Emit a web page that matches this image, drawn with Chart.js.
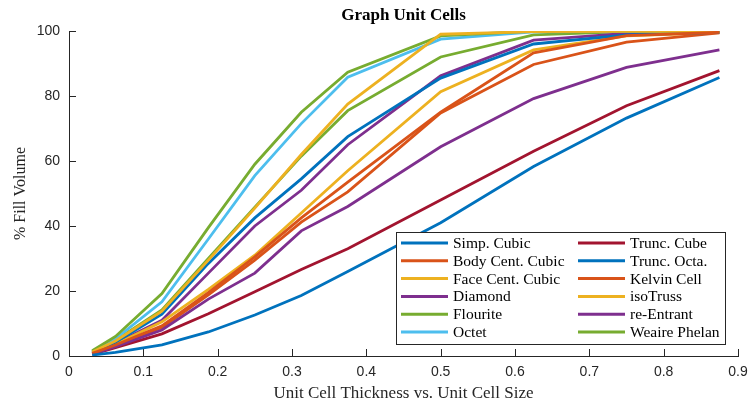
<!DOCTYPE html>
<html>
<head>
<meta charset="utf-8">
<script src="https://cdn.jsdelivr.net/npm/chart.js@4.4.1/dist/chart.umd.min.js"></script>
<style>
  html, body { margin: 0; padding: 0; background: #fff; }
  #wrap { width: 749px; height: 407px; }
</style>
</head>
<body>
<div id="wrap"><canvas id="cells"></canvas></div>
<script>
// thickness / cell size ratios sampled
const thickness = [0.03125, 0.0625, 0.125, 0.1875, 0.25, 0.3125, 0.375, 0.5, 0.625, 0.75, 0.875];
const xTicks = [0, 0.1, 0.2, 0.3, 0.4, 0.5, 0.6, 0.7, 0.8, 0.9];
const yTicks = [0, 20, 40, 60, 80, 100];

const simpCubic     = [0.3, 1.1, 3.4, 7.4, 12.6, 18.6, 26, 41, 58.3, 73.2, 85.7];
const bodyCentCubic = [0.8, 3.4, 9.3, 19.5, 30.5, 42.5, 53.5, 75, 93.3, 98.6, 99.6];
const faceCentCubic = [1.2, 4.6, 13.8, 29.5, 45.5, 62, 77.5, 99, 99.8, 99.9, 100];
const diamond       = [0.6, 2.9, 8.0, 17.5, 25.5, 38.5, 46, 64.4, 79.2, 88.8, 94.2];
const flourite      = [1.6, 6.0, 19.2, 39.5, 59, 75, 87.3, 98.5, 100, 100, 100];
const octet         = [1.4, 5.3, 16.7, 36, 55.5, 71.5, 85.8, 97.5, 99.7, 99.9, 100];
const truncCube     = [0.5, 2.6, 6.8, 13, 19.8, 26.6, 33, 48, 63, 77, 87.8];
const truncOcta     = [1.0, 4.2, 12.9, 28.5, 42.5, 54.5, 67.5, 85.5, 96, 98.8, 99.6];
const kelvinCell    = [0.7, 3.2, 8.8, 18.8, 29.5, 41.2, 50.5, 74.8, 89.7, 96.6, 99.4];
const isoTruss      = [0.8, 3.6, 10.5, 20.5, 31, 44, 57, 81.3, 94.2, 98.5, 99.5];
const reEntrant     = [0.9, 3.9, 11, 25.5, 40, 51, 65, 86.2, 97.2, 99.3, 99.8];
const weairePhelan  = [1.3, 4.8, 14.2, 30, 45.8, 61.5, 75.5, 92, 98.8, 99.8, 100];

const seriesNames = ['Simp. Cubic', 'Body Cent. Cubic', 'Face Cent. Cubic', 'Diamond', 'Flourite', 'Octet',
  'Trunc. Cube', 'Trunc. Octa.', 'Kelvin Cell', 'isoTruss', 're-Entrant', 'Weaire Phelan'];
const seriesValues = [simpCubic, bodyCentCubic, faceCentCubic, diamond, flourite, octet,
  truncCube, truncOcta, kelvinCell, isoTruss, reEntrant, weairePhelan];
const seriesColors = ['#0072BD', '#D95319', '#EDB120', '#7E2F8E', '#77AC30', '#4DBEEE',
  '#A2142F', '#0072BD', '#D95319', '#EDB120', '#7E2F8E', '#77AC30'];

const axisColor = '#262626';

// matlab style ticks pointing into the plot
const inwardTicks = {
  id: 'inwardTicks',
  beforeDatasetsDraw(chart) {
    const { ctx, chartArea: { left, bottom } } = chart;
    const len = 7;
    ctx.save();
    ctx.strokeStyle = axisColor;
    ctx.lineWidth = 1;
    ctx.beginPath();
    xTicks.forEach((v) => {
      const px = Math.round(chart.scales.x.getPixelForValue(v)) + 0.5;
      ctx.moveTo(px, bottom);
      ctx.lineTo(px, bottom - len);
    });
    yTicks.forEach((v) => {
      const py = Math.round(chart.scales.y.getPixelForValue(v)) + 0.5;
      ctx.moveTo(left, py);
      ctx.lineTo(left + len, py);
    });
    ctx.stroke();
    ctx.restore();
  },
};

// two column legend box in the lower right corner
const cellLegend = {
  id: 'cellLegend',
  afterDraw(chart) {
    const { ctx, chartArea } = chart;
    const boxW = 329;
    const boxH = 112;
    const right = chartArea.right - 13;
    const bottom = chartArea.bottom - 12;
    const left = right - boxW;
    const top = bottom - boxH;
    const perCol = 6;
    const rowH = 17.8;

    ctx.save();
    ctx.fillStyle = '#fff';
    ctx.fillRect(left, top, boxW, boxH);
    ctx.strokeStyle = axisColor;
    ctx.lineWidth = 1;
    ctx.strokeRect(Math.round(left) + 0.5, Math.round(top) + 0.5, boxW, boxH);

    ctx.font = '15.5px "Liberation Serif"';
    ctx.textBaseline = 'middle';
    ctx.textAlign = 'left';
    chart.data.datasets.forEach((ds, i) => {
      const col = Math.floor(i / perCol);
      const row = i % perCol;
      const x0 = left + (col === 0 ? 5 : 182);
      const y = top + 11 + row * rowH;
      ctx.strokeStyle = ds.borderColor;
      ctx.lineWidth = 3;
      ctx.beginPath();
      ctx.moveTo(x0, y);
      ctx.lineTo(x0 + 47, y);
      ctx.stroke();
      ctx.fillStyle = '#000';
      ctx.fillText(ds.label, x0 + 52, y + 1);
    });
    ctx.restore();
  },
};

const datasets = seriesNames.map((name, i) => ({
  label: name,
  data: thickness.map((t, j) => ({ x: t, y: seriesValues[i][j] })),
  borderColor: seriesColors[i],
  backgroundColor: seriesColors[i],
  borderWidth: 2.8,
  pointRadius: 0,
  tension: 0,
  fill: false,
}));

// eslint-disable-next-line no-unused-vars
const cellChart = new Chart(document.getElementById('cells'), {
  type: 'line',
  data: { datasets },
  options: {
    responsive: true,
    maintainAspectRatio: false,
    animation: false,
    events: [],
    layout: {
      padding: { top: 0, right: 0, bottom: 0, left: 0 },
    },
    plugins: {
      legend: { display: false },
      tooltip: { enabled: false },
      title: {
        display: true,
        text: 'Graph Unit Cells',
        fullSize: false,
        color: '#000',
        font: { family: '"Liberation Serif"', size: 17, weight: 'bold' },
        padding: { top: 5, bottom: 5.6 },
      },
    },
    scales: {
      x: {
        type: 'linear',
        min: 0,
        max: 0.9,
        afterBuildTicks: (scale) => {
          scale.ticks = xTicks.map((v) => ({ value: v }));
        },
        afterFit: (scale) => {
          scale.height = 51;
          scale.paddingRight = 11;
        },
        ticks: {
          color: axisColor,
          padding: 8,
          maxRotation: 0,
          font: { family: '"Liberation Sans"', size: 14 },
          callback: (value) => (value === 0 ? '0' : value.toFixed(1)),
        },
        grid: { display: false, drawTicks: false },
        border: { display: true, color: axisColor, width: 1 },
        title: {
          display: true,
          text: 'Unit Cell Thickness vs. Unit Cell Size',
          color: axisColor,
          font: { family: '"Liberation Serif"', size: 17 },
          padding: { top: 0, bottom: 3 },
        },
      },
      y: {
        type: 'linear',
        min: 0,
        max: 100,
        afterBuildTicks: (scale) => {
          scale.ticks = yTicks.map((v) => ({ value: v }));
        },
        afterFit: (scale) => {
          scale.width = 69;
        },
        ticks: {
          color: axisColor,
          padding: 9,
          font: { family: '"Liberation Sans"', size: 14 },
        },
        grid: { display: false, drawTicks: false },
        border: { display: true, color: axisColor, width: 1 },
        title: {
          display: true,
          text: '% Fill Volume',
          color: axisColor,
          font: { family: '"Liberation Serif"', size: 16 },
          padding: { top: 11, bottom: 0 },
        },
      },
    },
  },
  plugins: [inwardTicks, cellLegend],
});
</script>
</body>
</html>
